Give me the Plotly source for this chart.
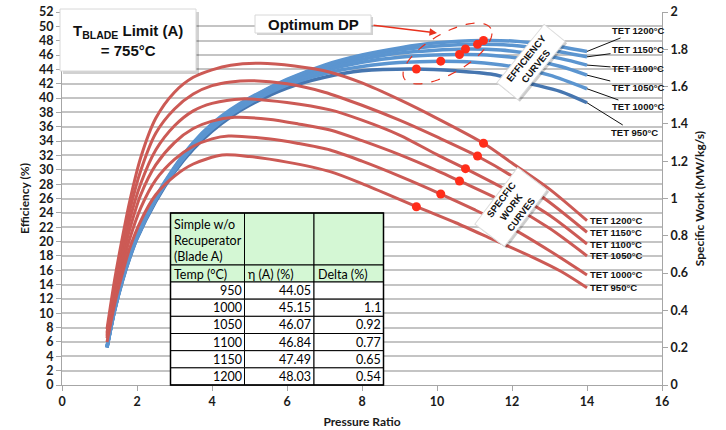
import numpy as np
import plotly.graph_objects as go

# ---------------- data ----------------
TET_LABELS = ["TET 950°C", "TET 1000°C", "TET 1050°C", "TET 1100°C", "TET 1150°C", "TET 1200°C"]

# Efficiency curves (%) vs pressure ratio
PR_E_950 = [1.2, 1.4, 1.6, 1.8, 2.0, 2.5, 3.0, 3.5, 4.0, 4.5, 5.0, 6.0, 7.0, 8.0, 9.45, 10.5, 11.5, 12.5, 13.3, 14.0]
EFF_950 = [5.2, 10.3, 14.3, 17.6, 20.4, 25.6, 29.7, 32.9, 35.4, 37.4, 39.0, 41.4, 42.9, 43.8, 44.05, 43.8, 43.3, 42.0, 40.9, 39.35]
PR_E_1000 = [1.2, 1.4, 1.6, 1.8, 2.0, 2.5, 3.0, 3.5, 4.0, 4.5, 5.0, 6.0, 7.0, 8.0, 9.0, 10.1, 11.0, 12.0, 13.0, 14.0]
EFF_1000 = [5.2, 10.4, 14.4, 17.7, 20.5, 25.8, 29.9, 33.2, 35.7, 37.7, 39.3, 41.8, 43.4, 44.4, 44.95, 45.15, 45.0, 44.4, 43.2, 41.3]
PR_E_1050 = [1.2, 1.4, 1.6, 1.8, 2.0, 2.5, 3.0, 3.5, 4.0, 4.5, 5.0, 6.0, 7.0, 8.0, 9.0, 10.6, 11.5, 12.5, 13.3, 14.0]
EFF_1050 = [5.3, 10.4, 14.5, 17.8, 20.6, 25.9, 30.0, 33.4, 35.9, 37.9, 39.5, 42.0, 43.8, 45.0, 45.7, 46.07, 45.95, 45.3, 44.4, 43.2]
PR_E_1100 = [1.2, 1.4, 1.6, 1.8, 2.0, 2.5, 3.0, 3.5, 4.0, 4.5, 5.0, 6.0, 7.0, 8.0, 9.0, 10.76, 11.7, 12.5, 13.3, 14.0]
EFF_1100 = [5.3, 10.4, 14.5, 17.9, 20.7, 26.0, 30.2, 33.6, 36.1, 38.1, 39.7, 42.3, 44.1, 45.4, 46.3, 46.84, 46.7, 46.2, 45.5, 44.6]
PR_E_1150 = [1.2, 1.4, 1.6, 1.8, 2.0, 2.5, 3.0, 3.5, 4.0, 4.5, 5.0, 6.0, 7.0, 8.0, 9.0, 10.0, 11.08, 12.0, 13.0, 14.0]
EFF_1150 = [5.3, 10.5, 14.6, 18.0, 20.8, 26.1, 30.3, 33.7, 36.3, 38.3, 39.9, 42.5, 44.4, 45.8, 46.7, 47.25, 47.49, 47.35, 46.7, 45.75]
PR_E_1200 = [1.2, 1.4, 1.6, 1.8, 2.0, 2.5, 3.0, 3.5, 4.0, 4.5, 5.0, 6.0, 7.0, 8.0, 9.0, 10.0, 11.24, 12.0, 13.0, 14.0]
EFF_1200 = [5.3, 10.5, 14.6, 18.0, 20.8, 26.2, 30.4, 33.8, 36.4, 38.4, 40.0, 42.6, 44.6, 46.0, 47.0, 47.7, 48.03, 47.95, 47.4, 46.5]

# Specific work curves (MW/kg/s) vs pressure ratio
PR_W_950 = [1.2, 1.4, 1.6, 1.8, 2.1, 2.5, 3.0, 3.5, 4.27, 5.0, 6.0, 7.15, 8.0, 9.46, 10.5, 11.5, 12.5, 13.3, 14.0]
SW_950 = [0.23, 0.43, 0.59, 0.73, 0.88, 1.02, 1.12, 1.185, 1.233, 1.225, 1.195, 1.144, 1.08, 0.956, 0.87, 0.78, 0.69, 0.61, 0.522]
PR_W_1000 = [1.2, 1.4, 1.6, 1.8, 2.1, 2.5, 3.0, 3.5, 4.0, 4.44, 5.5, 6.3, 7.15, 8.0, 9.0, 10.1, 11.0, 12.0, 13.0, 14.0]
SW_1000 = [0.25, 0.46, 0.63, 0.78, 0.95, 1.10, 1.21, 1.28, 1.32, 1.335, 1.32, 1.295, 1.26, 1.20, 1.12, 1.024, 0.94, 0.84, 0.72, 0.590]
PR_W_1050 = [1.2, 1.4, 1.6, 1.8, 2.1, 2.5, 3.0, 3.5, 4.0, 4.6, 5.5, 6.3, 7.15, 8.0, 9.0, 10.0, 10.6, 12.0, 13.0, 14.0]
SW_1050 = [0.26, 0.48, 0.67, 0.83, 1.02, 1.18, 1.30, 1.375, 1.415, 1.435, 1.425, 1.40, 1.367, 1.31, 1.235, 1.15, 1.094, 0.96, 0.84, 0.692]
PR_W_1100 = [1.2, 1.4, 1.6, 1.8, 2.1, 2.5, 3.0, 3.5, 4.0, 4.8, 6.0, 7.15, 8.0, 9.0, 10.0, 10.76, 12.0, 13.0, 14.0]
SW_1100 = [0.27, 0.50, 0.70, 0.88, 1.08, 1.26, 1.39, 1.47, 1.51, 1.534, 1.515, 1.475, 1.42, 1.34, 1.235, 1.160, 1.03, 0.91, 0.756]
PR_W_1150 = [1.2, 1.4, 1.6, 1.8, 2.1, 2.5, 3.0, 3.5, 4.0, 4.5, 5.0, 6.0, 7.0, 8.0, 9.0, 10.0, 11.07, 12.0, 13.0, 14.0]
SW_1150 = [0.28, 0.53, 0.74, 0.93, 1.15, 1.35, 1.48, 1.56, 1.605, 1.625, 1.632, 1.615, 1.57, 1.50, 1.42, 1.33, 1.228, 1.12, 0.98, 0.819]
PR_W_1200 = [1.2, 1.4, 1.6, 1.8, 2.1, 2.5, 3.0, 3.5, 4.0, 4.5, 5.3, 6.2, 7.1, 8.0, 9.0, 10.0, 11.24, 12.0, 13.0, 14.0]
SW_1200 = [0.30, 0.56, 0.78, 0.98, 1.22, 1.43, 1.57, 1.65, 1.69, 1.715, 1.725, 1.71, 1.68, 1.62, 1.53, 1.43, 1.296, 1.19, 1.05, 0.881]

# Optimum design points
OPT_PR = [9.45, 10.1, 10.6, 10.76, 11.08, 11.24]
OPT_EFF = [44.05, 45.15, 46.07, 46.84, 47.49, 48.03]
OPT_SW = [0.956, 1.024, 1.094, 1.160, 1.228, 1.296]

# Table
TABLE_TEMP = ["950", "1000", "1050", "1100", "1150", "1200"]
TABLE_ETA = ["44.05", "45.15", "46.07", "46.84", "47.49", "48.03"]
TABLE_DELTA = ["", "1.1", "0.92", "0.77", "0.65", "0.54"]

# ---------------- styling ----------------
W, H = 726, 430
X0, X1, Y0, Y1 = 62, 662, 12, 385          # plot box in window pixels
L, T, R, B = X0, Y0, W - X1, H - Y1
PW, PH = X1 - X0, Y1 - Y0
BLUE = "#5B95D0"
BLUE_DARK = "#4676B0"
RED = "#CC5A55"
DOT = "#FF2D1A"
GRID = "#C4C4C4"
AXIS = "#A6A6A6"
GREEN = "#D4F7D4"
TICKFONT = dict(family="Lato", size=12.5, color="#1a1a1a", weight="bold")
LABFONT = dict(family="Liberation Sans", size=9.5, color="#111111", weight="bold")


def px(xp):
    return (xp - X0) / PW


def py(yp):
    return (Y1 - yp) / PH


eff_pr = [PR_E_950, PR_E_1000, PR_E_1050, PR_E_1100, PR_E_1150, PR_E_1200]
eff_val = [EFF_950, EFF_1000, EFF_1050, EFF_1100, EFF_1150, EFF_1200]
sw_pr = [PR_W_950, PR_W_1000, PR_W_1050, PR_W_1100, PR_W_1150, PR_W_1200]
sw_val = [SW_950, SW_1000, SW_1050, SW_1100, SW_1150, SW_1200]

fig = go.Figure()

for i in range(6):
    fig.add_trace(go.Scatter(
        x=eff_pr[i], y=eff_val[i], mode="lines",
        line=dict(color=BLUE_DARK if i == 0 else BLUE, width=3.5, shape="spline", smoothing=0.8),
        showlegend=False, hoverinfo="skip"))

for i in range(6):
    fig.add_trace(go.Scatter(
        x=sw_pr[i], y=sw_val[i], mode="lines", yaxis="y2",
        line=dict(color=RED, width=3, shape="spline", smoothing=0.8),
        showlegend=False, hoverinfo="skip"))

fig.add_trace(go.Scatter(x=OPT_PR, y=OPT_EFF, mode="markers",
                         marker=dict(color=DOT, size=9), showlegend=False, hoverinfo="skip"))
fig.add_trace(go.Scatter(x=OPT_PR, y=OPT_SW, mode="markers", yaxis="y2",
                         marker=dict(color=DOT, size=9), showlegend=False, hoverinfo="skip"))

shapes = []
annotations = []


def note(**kw):
    kw.setdefault("xanchor", "center")
    kw.setdefault("yanchor", "middle")
    kw.setdefault("showarrow", False)
    annotations.append(kw)


# --- dashed ellipse around optimum points ---
t = np.linspace(0, 2 * np.pi, 91)
cx, cy, a, b, th = 447.5, 53.5, 50, 20, np.radians(30)
ex = cx + a * np.cos(t) * np.cos(th) - b * np.sin(t) * np.sin(th)
ey = cy - (a * np.cos(t) * np.sin(th) + b * np.sin(t) * np.cos(th))
path = "M " + " L ".join(f"{px(u):.5f},{py(v):.5f}" for u, v in zip(ex, ey)) + " Z"
shapes.append(dict(type="path", path=path, xref="paper", yref="paper",
                   line=dict(color="#E8301C", width=1.2, dash="dash")))


def box(x0, y0, x1, y1, shadow=3):
    shapes.append(dict(type="rect", xref="paper", yref="paper",
                       x0=px(x0 + shadow), x1=px(x1 + shadow), y0=py(y0 + shadow), y1=py(y1 + shadow),
                       fillcolor="rgba(0,0,0,0.18)", line=dict(width=0)))
    shapes.append(dict(type="rect", xref="paper", yref="paper",
                       x0=px(x0), x1=px(x1), y0=py(y0), y1=py(y1),
                       fillcolor="white", line=dict(color="#D8D8D8", width=1)))


# T_BLADE box
box(60, 9, 196, 71)
note(xref="paper", yref="paper", x=px(128), y=py(40),
     text="T<sub>BLADE</sub> Limit (A)<br>= 755°C",
     font=dict(family="Liberation Sans", size=15, color="#111", weight="bold"))
# Optimum DP box
box(255, 15, 371, 33, shadow=2)
note(xref="paper", yref="paper", x=px(313), y=py(24), text="Optimum DP",
     font=dict(family="Liberation Sans", size=15, color="#111", weight="bold"))
note(xref="paper", yref="paper", x=px(437), y=py(33), ax=-65, ay=-8,
     showarrow=True, arrowhead=2, arrowsize=1, arrowwidth=1.5, arrowcolor="#E8301C", text="")


def rot_box(xc, yc, text, w, h, ang):
    note(xref="paper", yref="paper", x=px(xc), y=py(yc),
         text=text, textangle=ang, width=w, height=h, xshift=2, yshift=-2,
         bgcolor="rgba(0,0,0,0.2)", font=dict(size=9.5, color="rgba(0,0,0,0)"))
    note(xref="paper", yref="paper", x=px(xc), y=py(yc),
         text=text, textangle=ang, width=w, height=h,
         bgcolor="white", bordercolor="#DDDDDD", borderwidth=1, font=LABFONT)


rot_box(531, 62, "EFFICIENCY<br>CURVES", 72, 24, -51)
rot_box(511, 207, "SPECFIC<br>WORK<br>CURVES", 68, 34, -53)

# --- blue labels with leader lines ---
blue_lab_pos = [(634, 132), (638, 107), (638, 88), (638, 69), (638, 50), (638, 31)]
for i in range(6):
    xe, ye = eff_pr[i][-1], eff_val[i][-1]
    yp_end = Y1 - ye / 52 * PH
    xp_end = X0 + xe / 16 * PW
    lx, ly = blue_lab_pos[i]
    note(x=xe, y=ye, xref="x", yref="y", text=TET_LABELS[i],
         showarrow=True, arrowhead=0, arrowwidth=1, arrowcolor="#111",
         ax=lx - xp_end, ay=ly - yp_end, standoff=0, font=LABFONT)

# --- red labels at curve ends ---
for i in range(6):
    note(x=sw_pr[i][-1], y=sw_val[i][-1], xref="x", yref="y2",
         text=TET_LABELS[i], xanchor="left", xshift=1, font=LABFONT)

# --- table drawn with shapes + text ---
col_x = [170.5, 244.5, 314, 383.5]
row_y = [213, 265, 282] + [282 + 17.17 * (k + 1) for k in range(6)]
for r in range(len(row_y) - 1):
    for c in range(3):
        shapes.append(dict(type="rect", xref="paper", yref="paper",
                           x0=px(col_x[c]), x1=px(col_x[c + 1]), y0=py(row_y[r]), y1=py(row_y[r + 1]),
                           fillcolor=GREEN if r < 2 else "white", line=dict(color="black", width=1)))
shapes.append(dict(type="rect", xref="paper", yref="paper",
                   x0=px(col_x[0]), x1=px(col_x[3]), y0=py(row_y[0]), y1=py(row_y[-1]),
                   line=dict(color="black", width=1.5)))
TFONT = dict(family="Lato", size=12.5, color="black")
for txt, yy in zip(["Simple w/o", "Recuperator", "(Blade A)"], [225, 240.5, 256]):
    note(xref="paper", yref="paper", x=px(172), y=py(yy), text=txt, xanchor="left", font=TFONT)
for txt, c in zip(["Temp (°C)", "η (A) (%)", "Delta (%)"], range(3)):
    note(xref="paper", yref="paper", x=px(col_x[c] + 1.5), y=py(274), text=txt,
         xanchor="left", font=TFONT)
for k in range(6):
    yc = (row_y[k + 2] + row_y[k + 3]) / 2
    for c, col in enumerate([TABLE_TEMP, TABLE_ETA, TABLE_DELTA]):
        if col[k]:
            note(xref="paper", yref="paper", x=px(col_x[c + 1] - 1), y=py(yc),
                 text=col[k], xanchor="right", font=TFONT)

axis_common = dict(showline=True, linecolor=AXIS, linewidth=1, ticks="outside", ticklen=5,
                   tickcolor=AXIS, tickfont=TICKFONT, zeroline=False, automargin=False,
                   ticklabeloverflow="allow")
TITLEFONT = dict(family="Lato", size=12, color="#1a1a1a", weight="bold")

fig.update_layout(
    width=W, height=H, margin=dict(l=L, r=R, t=T, b=B, autoexpand=False),
    paper_bgcolor="white", plot_bgcolor="white",
    xaxis=dict(range=[0, 16], dtick=2, showgrid=False,
               title=dict(text="Pressure Ratio", standoff=9, font=TITLEFONT),
               **axis_common),
    yaxis=dict(range=[0, 52], dtick=2, showgrid=True, gridcolor=GRID, gridwidth=1.5,
               title=dict(text="Efficiency (%)", standoff=6, font=TITLEFONT),
               **axis_common),
    yaxis2=dict(range=[0, 2], dtick=0.2, overlaying="y", side="right", showgrid=False,
                title=dict(text="Specific Work (MW/kg/s)", standoff=8, font=TITLEFONT),
                **axis_common),
    shapes=shapes, annotations=annotations, showlegend=False,
)

# remove the browser's default 8px body margin so the 726x430 figure fills the window
fig.write_html("out.html", config={"displayModeBar": False},
               post_script="document.body.style.margin='0';")
